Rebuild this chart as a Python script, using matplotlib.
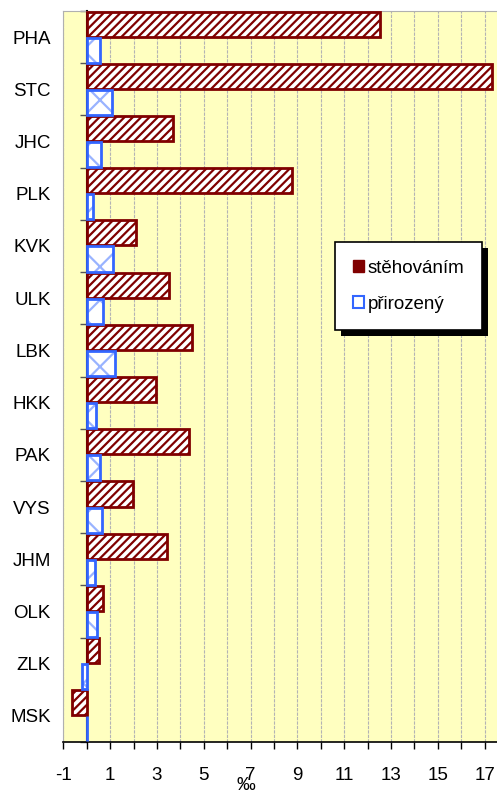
import matplotlib.pyplot as plt
import matplotlib.patches as mpatches
import numpy as np

regions = ["PHA", "STC", "JHC", "PLK", "KVK", "ULK", "LBK",
           "HKK", "PAK", "VYS", "JHM", "OLK", "ZLK", "MSK"]
migration = [12.54, 17.3, 3.67, 8.75, 2.09, 3.53, 4.5,
             2.97, 4.37, 1.96, 3.45, 0.71, 0.54, -0.62]
natural = [0.57, 1.08, 0.6, 0.28, 1.11, 0.71, 1.21,
           0.38, 0.57, 0.67, 0.36, 0.43, -0.21, 0.03]
xticks = list(range(-1, 18))
xlabels = [str(t) if t % 2 else "" for t in xticks]

plt.rcParams["font.family"] = ["Liberation Sans", "DejaVu Sans"]
plt.rcParams["hatch.linewidth"] = 1.6

dark_red = "#800000"
blue = "#3366ff"
light_blue = "#99b3ff"

fig = plt.figure(figsize=(4.97, 7.94), dpi=100)
ax = fig.add_axes([63.3 / 497, 1 - 742 / 794, 1 - 63.3 / 497, (742 - 11) / 794])
ax.set_facecolor("#ffffc0")

y = np.arange(len(regions))
h = 0.48

# hatch layers first, then outlines on top
ax.barh(y - 0.25, migration, height=h, color="white", edgecolor=dark_red,
        hatch="////", linewidth=0, zorder=2)
ax.barh(y - 0.25, migration, height=h, fill=False, edgecolor=dark_red,
        linewidth=2, zorder=3)
ax.barh(y + 0.25, natural, height=h, color="white", edgecolor=light_blue,
        hatch="x", linewidth=0, zorder=2)
ax.barh(y + 0.25, natural, height=h, fill=False, edgecolor=blue,
        linewidth=2, zorder=3)

xmax = 17.53
ax.set_xlim(-1, xmax)
ax.set_ylim(len(regions) - 0.5, -0.5)

ax.set_xticks(xticks)
ax.set_xticklabels(xlabels, fontsize=13.5)
ax.tick_params(axis="x", length=5, width=1, pad=13, direction="out")
ax.set_yticks(y)
ax.set_yticklabels(regions, fontsize=13.5)
ax.tick_params(axis="y", length=0, pad=9)

ax.grid(axis="x", color="#b4b4b4", linewidth=0.8, linestyle=(0, (3, 1)), zorder=1)
ax.set_axisbelow(True)

for s in ["top", "left"]:
    ax.spines[s].set_color("#b0b0b0")
    ax.spines[s].set_linewidth(0.8)
ax.spines["right"].set_visible(False)
ax.spines["bottom"].set_linewidth(1.2)

# category axis crossing at zero
sec = ax.secondary_yaxis(1 / (xmax + 1))
sec.set_yticks(np.arange(len(regions) + 1) - 0.5)
sec.set_yticklabels([])
sec.tick_params(length=5, width=1, color="#555555")
sec.spines["left"].set_linewidth(1.5)
sec.spines["left"].set_color("black")

ax.text(6.8, -0.059, "‰", transform=ax.get_xaxis_transform(),
        ha="center", va="center", fontsize=13.5)

handles = [
    mpatches.Patch(facecolor=dark_red, edgecolor=dark_red, hatch="//", label="stěhováním"),
    mpatches.Patch(facecolor="white", edgecolor=blue, linewidth=1.5, label="přirozený"),
]
leg = ax.legend(handles=handles, loc="upper left", bbox_to_anchor=(335 / 497, 1 - 242 / 794),
                bbox_transform=fig.transFigure, fontsize=13.5, frameon=True, fancybox=False,
                edgecolor="black", handlelength=0.6, handleheight=0.6, handletextpad=0.2,
                labelspacing=1.0, borderpad=0.95, borderaxespad=0, framealpha=1)
leg.get_frame().set_linewidth(1.2)
leg.set_zorder(6)

fig.canvas.draw()
bb = leg.get_window_extent()
inv = ax.transAxes.inverted()
(x0, y0), (x1, y1) = inv.transform([(bb.x0 + 6, bb.y0 - 6), (bb.x1 + 6, bb.y1 - 6)])
ax.add_patch(mpatches.Rectangle((x0, y0), x1 - x0, y1 - y0, transform=ax.transAxes,
                                facecolor="black", edgecolor="none", zorder=5.5, clip_on=False))

fig.savefig("out.png", dpi=100)
